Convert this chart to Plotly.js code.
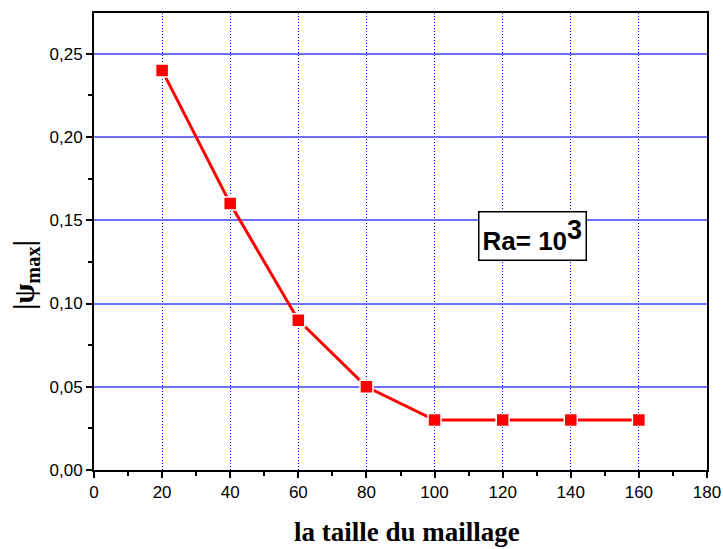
<!DOCTYPE html>
<html>
<head>
<meta charset="utf-8">
<script src="https://cdn.plot.ly/plotly-3.0.1.min.js"></script>
<style>
  html, body { margin: 0; padding: 0; background: #ffffff; }
  #chart { width: 723px; height: 549px; }
</style>
</head>
<body>
<div id="chart"></div>
<script>
// Mesh size versus maximum stream function, Ra = 10^3
const meshSizes = [20, 40, 60, 80, 100, 120, 140, 160];
const psiMax = [0.24, 0.16, 0.09, 0.05, 0.03, 0.03, 0.03, 0.03];
const xTicks = [0, 20, 40, 60, 80, 100, 120, 140, 160, 180];
const yTicks = [0, 0.05, 0.10, 0.15, 0.20, 0.25];

const trace = {
  x: meshSizes,
  y: psiMax,
  type: 'scatter',
  mode: 'lines+markers',
  line: { color: '#ff0000', width: 3 },
  marker: { symbol: 'square', size: 13, color: '#ff0000', line: { color: '#ffffff', width: 1.5 } },
  cliponaxis: false,
  hoverinfo: 'skip'
};

const tickFont = { family: 'Liberation Sans, Arial, sans-serif', size: 17, color: '#000000' };

const axisCommon = {
  showline: true,
  linecolor: '#000000',
  linewidth: 2,
  mirror: true,
  ticks: 'outside',
  ticklen: 6,
  tickwidth: 2,
  tickcolor: '#000000',
  zeroline: false,
  tickfont: tickFont
};

const layout = {
  width: 723,
  height: 549,
  margin: { l: 94, r: 16, t: 13, b: 79 },
  paper_bgcolor: '#ffffff',
  plot_bgcolor: '#ffffff',
  showlegend: false,
  xaxis: Object.assign({}, axisCommon, {
    range: [0, 180],
    tickmode: 'array',
    tickvals: xTicks,
    ticktext: xTicks.map(String),
    showgrid: true,
    gridcolor: '#0000ff',
    gridwidth: 1,
    griddash: '1px,2px',
    minor: { dtick: 10, tick0: 0, ticks: 'outside', ticklen: 4, tickwidth: 2, tickcolor: '#000000', showgrid: false }
  }),
  yaxis: Object.assign({}, axisCommon, {
    range: [0, 0.2745],
    tickmode: 'array',
    tickvals: yTicks,
    ticktext: yTicks.map(v => v.toFixed(2).replace('.', ',')),
    showgrid: true,
    gridcolor: '#7070ff',
    gridwidth: 2,
    minor: { dtick: 0.025, tick0: 0, ticks: 'outside', ticklen: 4, tickwidth: 2, tickcolor: '#000000', showgrid: false }
  }),
  annotations: [
    {
      text: 'Ra= 10<sup><span style="font-size:27px">3</span></sup>',
      x: 128.9, y: 0.1403, xref: 'x', yref: 'y',
      xanchor: 'center', yanchor: 'middle',
      showarrow: false,
      font: { family: 'Liberation Sans, Arial, sans-serif', size: 26, color: '#000000', weight: 'bold' },
      bgcolor: '#ffffff',
      bordercolor: '#000000',
      borderwidth: 1.5,
      borderpad: 3
    },
    {
      text: '<b>la taille du maillage</b>',
      x: 0, y: 0, xref: 'paper', yref: 'paper',
      xanchor: 'center', yanchor: 'middle',
      showarrow: false,
      font: { family: 'Liberation Serif, Times New Roman, serif', size: 27, color: '#000000' }
    },
    {
      text: '<b>|ψ<sub>max</sub>|</b>',
      x: 0, y: 0, xref: 'paper', yref: 'paper',
      xanchor: 'center', yanchor: 'middle',
      showarrow: false,
      textangle: -90,
      font: { family: 'Liberation Serif, Times New Roman, serif', size: 29, color: '#000000' }
    }
  ]
};

// place the two axis titles at pixel positions within the figure
const plotW = 723 - 94 - 16;
const plotH = 549 - 13 - 79;
layout.annotations[1].x = (407 - 94) / plotW;
layout.annotations[1].y = (470 - 532) / plotH;
layout.annotations[2].x = (26 - 94) / plotW;
layout.annotations[2].y = (470 - 275) / plotH;

Plotly.newPlot('chart', [trace], layout, { staticPlot: true, displayModeBar: false });
</script>
</body>
</html>
